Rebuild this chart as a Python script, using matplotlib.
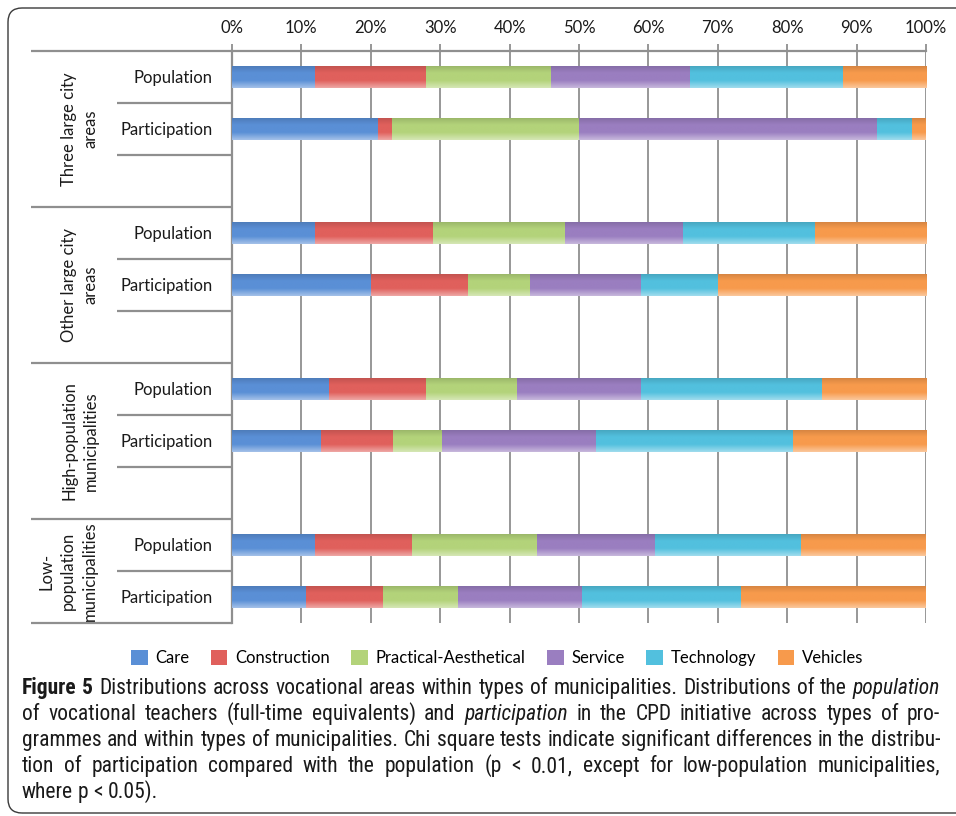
import numpy as np
import matplotlib
matplotlib.use("Agg")
import matplotlib.pyplot as plt
from matplotlib.colors import LinearSegmentedColormap, to_rgb
from matplotlib.patches import FancyBboxPatch, Patch
from matplotlib import transforms

# ---- data -------------------------------------------------------------
areas = ["Care", "Construction", "Practical-Aesthetical", "Service", "Technology", "Vehicles"]
groups = ["Three large city\nareas", "Other large city\nareas",
          "High-population\nmunicipalities", "Low-\npopulation\nmunicipalities"]
row_labels = ["Population", "Participation"]

# percentage shares per vocational area (Care ... Vehicles)
three_large_pop = [12, 16, 18, 20, 22, 12]
three_large_part = [21, 2, 27, 43, 5, 2]
other_large_pop = [12, 17, 19, 17, 19, 16]
other_large_part = [20, 14, 9, 16, 11, 30]
high_pop_pop = [14, 14, 13, 18, 26, 15]
high_pop_part = [12.8, 10.4, 7.1, 22.2, 28.3, 19.2]
low_pop_pop = [12, 14, 18, 17, 21, 18]
low_pop_part = [10.7, 11.0, 10.9, 17.9, 22.9, 26.6]

xticks = [0, 10, 20, 30, 40, 50, 60, 70, 80, 90, 100]
xtick_labels = [f"{v}%" for v in xticks]

colors = ["#5a8fd6", "#e0605c", "#b3d37a", "#9a7ec0", "#52c0de", "#f79a4c"]

# ---- figure -----------------------------------------------------------
W, H = 956, 816
fig = plt.figure(figsize=(W / 100, H / 100), dpi=100)
fig.patch.set_facecolor("white")

FONT = ["Lato", "DejaVu Sans"]
CAP_FONT = ["Roboto Condensed", "Fira Sans Condensed", "PT Sans Narrow",
            "Sofia Sans Semi Condensed", "Encode Sans Semi Condensed", "DejaVu Sans"]

# rounded outer frame
frame = FancyBboxPatch((0.08, 0.03), 10.0, 8.05,
                       boxstyle="round,pad=0,rounding_size=0.14",
                       transform=fig.dpi_scale_trans, facecolor="none",
                       edgecolor="#3a3a3a", linewidth=1.0, zorder=0)
fig.patches.append(frame)

left, right, top, bottom = 232, 926, 51, 623
ax = fig.add_axes([left / W, 1 - bottom / H, (right - left) / W, (bottom - top) / H])

series = [
    (three_large_pop, three_large_part),
    (other_large_pop, other_large_part),
    (high_pop_pop, high_pop_part),
    (low_pop_pop, low_pop_part),
]
slots_per_group = [3, 3, 3, 2]
n_slots = sum(slots_per_group)

grid_c = "#8f8f8f"
bar_h = 0.44

def gradient_cmap(c):
    r = np.array(to_rgb(c))
    light = r + (1 - r) * 0.45
    dark = r * 0.85
    return LinearSegmentedColormap.from_list("g", [light, r, r, dark], N=64)

grad = np.linspace(0, 1, 64).reshape(-1, 1)

ypos, ylabels = [], []
start = 0
for (pop, part), nslot in zip(series, slots_per_group):
    for k, vals in enumerate((pop, part)):
        y = start + k + 0.5
        ypos.append(y)
        ylabels.append(row_labels[k])
        lefts = np.concatenate([[0], np.cumsum(vals)[:-1]])
        bars = ax.barh(y, vals, left=lefts, height=bar_h, color=colors,
                       edgecolor="none", zorder=3)
        for b, c in zip(bars, colors):
            x0, y0 = b.get_x(), b.get_y()
            im = ax.imshow(grad, cmap=gradient_cmap(c), aspect="auto",
                           extent=(x0, x0 + b.get_width(), y0, y0 + b.get_height()),
                           origin="upper", zorder=3.5, interpolation="bilinear")
            im.set_clip_path(b)
    start += nslot

ax.set_xlim(0, 100)
ax.set_ylim(n_slots, 0)
ax.set_aspect("auto")

# axis styling
ax.xaxis.tick_top()
ax.set_xticks(xticks)
ax.set_xticklabels(xtick_labels, fontsize=12, family=FONT, color="#1a1a1a")
ax.tick_params(axis="x", direction="out", length=5, width=1.3, color=grid_c, pad=6)
ax.set_yticks(ypos)
ax.set_yticklabels(ylabels, fontsize=12, family=FONT, color="#1a1a1a")
ax.tick_params(axis="y", length=0, pad=14)
for s in ("right", "bottom"):
    ax.spines[s].set_visible(False)
for s in ("left", "top"):
    ax.spines[s].set_color(grid_c)
    ax.spines[s].set_linewidth(1.6)
ax.grid(axis="x", color=grid_c, linewidth=1.3, zorder=1)
ax.set_axisbelow(True)

# category separators on the left side
blend = transforms.blended_transform_factory(ax.transAxes, ax.transData)
sub_x0 = (117 - left) / (right - left)
grp_x0 = (31 - left) / (right - left)
start = 0
for nslot in slots_per_group:
    ax.plot([grp_x0, 0], [start, start], transform=blend, color=grid_c,
            lw=1.6, clip_on=False, solid_capstyle="butt")
    for k in range(1, nslot):
        ax.plot([sub_x0, 0], [start + k, start + k], transform=blend, color=grid_c,
                lw=1.6, clip_on=False, solid_capstyle="butt")
    start += nslot
ax.plot([grp_x0, 0], [start, start], transform=blend, color=grid_c,
        lw=1.6, clip_on=False, solid_capstyle="butt")

# rotated group labels
start = 0
for g, nslot in zip(groups, slots_per_group):
    nlines = g.count("\n") + 1
    xc = (92 - 12 * (nlines - 1) - left) / (right - left)
    ax.text(xc, start + nslot / 2, g, transform=blend, rotation=90,
            ha="center", va="center", multialignment="center",
            fontsize=12, family=FONT, color="#1a1a1a", linespacing=1.45)
    start += nslot

# legend
handles = [Patch(facecolor=c, edgecolor="none") for c in colors]
fig.legend(handles, areas, loc="center", bbox_to_anchor=(497 / W, 1 - 658 / H),
           ncol=6, frameon=False, prop={"family": FONT, "size": 12},
           handlelength=1.0, handleheight=1.0, handletextpad=0.45,
           columnspacing=1.3)

# caption
renderer = fig.canvas.get_renderer()
N, B, I = "normal", "bold", "italic"
caption = [
    ([("Figure 5", B, N),
      ("Distributions across vocational areas within types of municipalities. Distributions of the", N, N),
      ("population", N, I)], 694, True),
    ([("of vocational teachers (full-time equivalents) and", N, N),
      ("participation", N, I),
      ("in the CPD initiative across types of pro-", N, N)], 720, True),
    ([("grammes and within types of municipalities. Chi square tests indicate significant differences in the distribu-", N, N)],
     746, True),
    ([("tion of participation compared with the population (p < 0.01, except for low-population municipalities,", N, N)],
     772, True),
    ([("where p < 0.05).", N, N)], 798, False),
]
X0, X1 = 22, 940

def line_words(runs):
    out = []
    for txt, weight, style in runs:
        for w in txt.split(" "):
            if w:
                out.append((w, weight, style))
    return out

def measure(s, size, weight=N, style=N):
    t = fig.text(0, 0, s, fontsize=size, fontweight=weight, fontstyle=style, family=CAP_FONT)
    w = t.get_window_extent(renderer).width
    t.remove()
    return w

def natural_width(runs, size):
    words = line_words(runs)
    space = measure("a a", size) - measure("aa", size)
    return sum(measure(w, size, wt, st) for w, wt, st in words) + space * (len(words) - 1)

base = 17.0
widest = max(natural_width(r, base) for r, _, _ in caption)
cap_size = min(base, base * (X1 - X0 - 4) / widest)

def caption_line(runs, baseline, justify):
    words = line_words(runs)
    arts, widths = [], []
    for w, weight, style in words:
        t = fig.text(0, 1 - baseline / H, w, fontsize=cap_size, fontweight=weight,
                     fontstyle=style, family=CAP_FONT, va="baseline", ha="left",
                     color="#1a1a1a")
        widths.append(t.get_window_extent(renderer).width)
        arts.append(t)
    space = measure("a a", cap_size) - measure("aa", cap_size)
    if justify and len(words) > 1:
        gap = (X1 - X0 - sum(widths)) / (len(words) - 1)
    else:
        gap = space
    x = X0
    for t, w in zip(arts, widths):
        t.set_x(x / W)
        x += w + gap

for runs, baseline, justify in caption:
    caption_line(runs, baseline, justify)

fig.savefig("out.png", dpi=100)
